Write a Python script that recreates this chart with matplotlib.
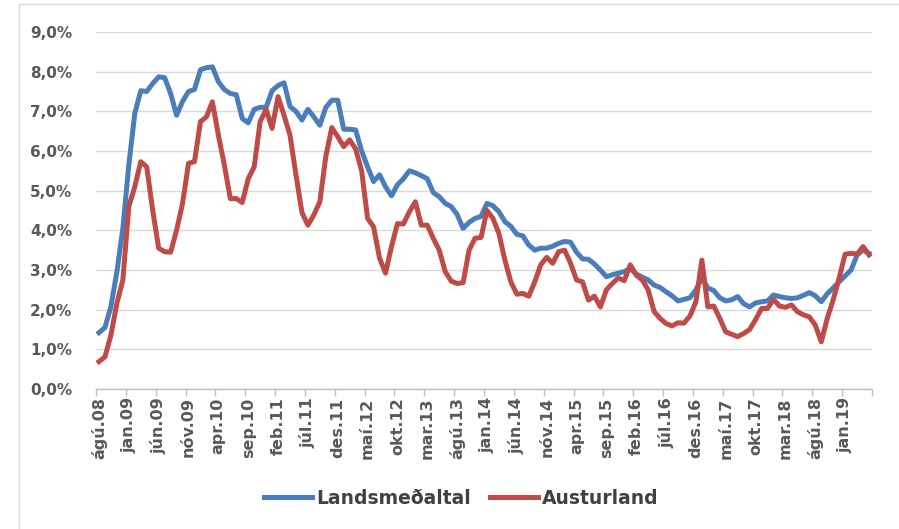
import matplotlib
matplotlib.use("Agg")
import numpy as np
import matplotlib.pyplot as plt
from matplotlib.patches import Rectangle
from matplotlib.ticker import FuncFormatter

# monthly values, ágú.08 - maí.19 (%)
landsmedaltal = [
    1.42, 1.55, 2.08, 2.95, 4.05, 5.65, 6.95, 7.52, 7.50, 7.70,
    7.87, 7.85, 7.45, 6.90, 7.25, 7.50, 7.55, 8.05, 8.10, 8.12,
    7.75, 7.55, 7.45, 7.42, 6.82, 6.71, 7.05, 7.10, 7.10, 7.52,
    7.65, 7.72, 7.12, 7.00, 6.78, 7.05, 6.86, 6.65, 7.10, 7.28,
    7.28, 6.55, 6.55, 6.53, 6.00, 5.60, 5.23, 5.40, 5.10, 4.87,
    5.15, 5.30, 5.50, 5.45, 5.38, 5.30, 4.95, 4.85, 4.68, 4.60,
    4.40, 4.05, 4.20, 4.30, 4.35, 4.68, 4.62, 4.47, 4.22, 4.10,
    3.90, 3.86, 3.63, 3.50, 3.55, 3.55, 3.60, 3.67, 3.72, 3.70,
    3.45, 3.28, 3.27, 3.15, 3.00, 2.83, 2.88, 2.92, 2.96, 3.04,
    2.90, 2.82, 2.75, 2.62, 2.56, 2.45, 2.35, 2.22, 2.26, 2.30,
    2.50, 2.80, 2.55, 2.48, 2.30, 2.22, 2.25, 2.33, 2.15, 2.07,
    2.17, 2.20, 2.22, 2.37, 2.33, 2.30, 2.28, 2.30, 2.36, 2.43,
    2.35, 2.20, 2.40, 2.55, 2.70, 2.85, 3.00, 3.38, 3.50, 3.42,
]
austurland = [
    0.69, 0.81, 1.36, 2.16, 2.75, 4.60, 5.10, 5.73, 5.60, 4.50,
    3.55, 3.46, 3.45, 4.00, 4.68, 5.69, 5.73, 6.74, 6.86, 7.24,
    6.40, 5.65, 4.80, 4.80, 4.70, 5.30, 5.60, 6.74, 7.05, 6.57,
    7.37, 6.90, 6.40, 5.40, 4.45, 4.13, 4.39, 4.72, 5.86, 6.59,
    6.36, 6.11, 6.28, 6.05, 5.50, 4.30, 4.09, 3.30, 2.92, 3.59,
    4.17, 4.16, 4.47, 4.72, 4.13, 4.13, 3.80, 3.50, 2.96, 2.72,
    2.66, 2.68, 3.50, 3.80, 3.82, 4.50, 4.30, 3.92, 3.25, 2.70,
    2.39, 2.41, 2.34, 2.70, 3.13, 3.32, 3.17, 3.46, 3.50, 3.17,
    2.75, 2.70, 2.24, 2.34, 2.07, 2.50, 2.66, 2.80, 2.73, 3.13,
    2.87, 2.75, 2.50, 1.95, 1.78, 1.65, 1.59, 1.67, 1.66, 1.84,
    2.20, 3.25, 2.07, 2.09, 1.78, 1.44, 1.38, 1.32, 1.40, 1.50,
    1.75, 2.03, 2.03, 2.26, 2.09, 2.06, 2.12, 1.95, 1.87, 1.82,
    1.61, 1.19, 1.78, 2.25, 2.80, 3.40, 3.42, 3.40, 3.59, 3.38,
]
tick_labels = [
    "ágú.08", "jan.09", "jún.09", "nóv.09", "apr.10", "sep.10", "feb.11",
    "júl.11", "des.11", "maí.12", "okt.12", "mar.13", "ágú.13", "jan.14",
    "jún.14", "nóv.14", "apr.15", "sep.15", "feb.16", "júl.16", "des.16",
    "maí.17", "okt.17", "mar.18", "ágú.18", "jan.19",
]

BLUE = "#4A7EBB"
RED = "#BE4B48"
GREY_TXT = "#595959"

plt.rcParams["font.family"] = ["DejaVu Sans"]

fig = plt.figure(figsize=(8.99, 5.29), dpi=100)
fig.patches.append(Rectangle((19 / 899, -0.1), 1.2, 1.1 - 4 / 529 + 0.0,
                             transform=fig.transFigure, fill=False,
                             edgecolor="#D9D9D9", lw=1.0))
ax = fig.add_axes([96 / 899, 1 - 389 / 529, 776 / 899, 357 / 529])

x = np.arange(len(landsmedaltal))
ax.plot(x, landsmedaltal, color=BLUE, lw=3.6, solid_joinstyle="round",
        label="Landsmeðaltal")
ax.plot(x, austurland, color=RED, lw=3.6, solid_joinstyle="round",
        label="Austurland")

ax.set_xlim(-0.5, len(x) - 0.5)
ax.set_ylim(0, 9)
ax.set_yticks(np.arange(0, 10, 1))
ax.yaxis.set_major_formatter(FuncFormatter(lambda v, p: f"{v:.1f}%".replace(".", ",")))
ax.grid(axis="y", color="#D9D9D9", lw=1.0)
ax.set_axisbelow(True)

ax.set_xticks(np.arange(0, len(x), 5))
ax.set_xticklabels(tick_labels, rotation=90)
ax.set_xticks(np.arange(-0.5, len(x), 5), minor=True)
ax.tick_params(axis="x", which="major", length=0, pad=6,
               labelsize=11.5, labelcolor=GREY_TXT)
ax.tick_params(axis="x", which="minor", length=5, color="#BFBFBF", width=1)
ax.tick_params(axis="y", length=0, pad=17, labelsize=11, labelcolor=GREY_TXT)
for lab in ax.get_xticklabels() + ax.get_yticklabels():
    lab.set_fontweight("bold")

for s in ["top", "right", "left"]:
    ax.spines[s].set_visible(False)
ax.spines["bottom"].set_color("#BFBFBF")
ax.spines["bottom"].set_linewidth(1.0)

leg = fig.legend(loc="center", bbox_to_anchor=(0.513, 1 - 498 / 529), ncol=2,
                 frameon=False, handlelength=2.6, handletextpad=0.2,
                 columnspacing=1.0, prop={"size": 13.5, "weight": "bold"})
for t in leg.get_texts():
    t.set_color("#404040")

fig.savefig("out.png", dpi=100)
